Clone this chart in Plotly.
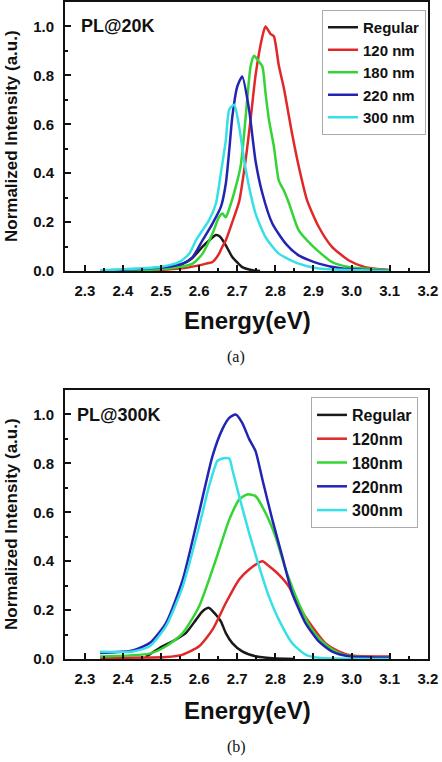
import plotly.graph_objects as go

# ---------------- Panel (a): PL@20K ----------------
a_regular_x = [2.34, 2.45, 2.50, 2.55, 2.58, 2.609, 2.63, 2.644, 2.655, 2.67, 2.687, 2.70, 2.713, 2.74, 2.76]
a_regular_y = [0.0, 0.003, 0.01, 0.025, 0.05, 0.10, 0.13, 0.147, 0.14, 0.105, 0.057, 0.035, 0.016, 0.003, 0.0]

a_120_x = [2.34, 2.45, 2.55, 2.60, 2.618, 2.635, 2.652, 2.661, 2.67, 2.687, 2.705, 2.722, 2.735, 2.748, 2.766,
           2.774, 2.787, 2.796, 2.809, 2.822, 2.844, 2.861, 2.883, 2.914, 2.948, 2.992, 3.035, 3.096]
a_120_y = [0.0, 0.002, 0.01, 0.023, 0.03, 0.037, 0.07, 0.10, 0.126, 0.20, 0.284, 0.455, 0.62, 0.80, 0.96,
           1.0, 0.97, 0.96, 0.84, 0.75, 0.56, 0.43, 0.29, 0.18, 0.10, 0.044, 0.016, 0.005]

a_180_x = [2.34, 2.45, 2.548, 2.583, 2.609, 2.635, 2.652, 2.661, 2.67, 2.679, 2.696, 2.709, 2.718, 2.726, 2.735,
           2.744, 2.757, 2.766, 2.774, 2.783, 2.796, 2.809, 2.822, 2.835, 2.861, 2.896, 2.948, 2.992, 3.10]
a_180_y = [0.0, 0.003, 0.016, 0.03, 0.071, 0.153, 0.22, 0.235, 0.22, 0.255, 0.344, 0.43, 0.56, 0.70, 0.836,
           0.88, 0.856, 0.836, 0.73, 0.62, 0.51, 0.37, 0.33, 0.28, 0.167, 0.105, 0.037, 0.016, 0.003]

a_220_x = [2.34, 2.40, 2.513, 2.557, 2.583, 2.609, 2.635, 2.657, 2.67, 2.679, 2.687, 2.70, 2.713,
           2.731, 2.748, 2.766, 2.792, 2.827, 2.861, 2.914, 2.975, 3.10]
a_220_y = [0.002, 0.005, 0.016, 0.03, 0.057, 0.126, 0.194, 0.262, 0.358, 0.495, 0.63, 0.754, 0.795,
           0.66, 0.45, 0.317, 0.194, 0.112, 0.064, 0.03, 0.01, 0.0]

a_300_x = [2.34, 2.496, 2.548, 2.574, 2.592, 2.609, 2.626, 2.644, 2.657, 2.67, 2.679, 2.692,
           2.705, 2.718, 2.731, 2.748, 2.774, 2.809, 2.861, 2.914, 3.10]
a_300_y = [0.003, 0.016, 0.037, 0.071, 0.126, 0.167, 0.208, 0.276, 0.40, 0.535, 0.66, 0.68,
           0.59, 0.454, 0.344, 0.235, 0.139, 0.071, 0.03, 0.01, 0.0]

# ---------------- Panel (b): PL@300K ----------------
b_regular_x = [2.46, 2.496, 2.53, 2.565, 2.592, 2.609, 2.626, 2.644, 2.657, 2.67, 2.687, 2.713, 2.748, 2.792, 2.85]
b_regular_y = [0.008, 0.045, 0.072, 0.106, 0.161, 0.195, 0.209, 0.181, 0.154, 0.106, 0.065, 0.031, 0.011, 0.003, 0.0]

b_120_x = [2.34, 2.513, 2.557, 2.60, 2.635, 2.67, 2.705, 2.731, 2.766, 2.783, 2.809, 2.835, 2.861, 2.896,
           2.931, 2.966, 3.0, 3.10]
b_120_y = [0.005, 0.008, 0.018, 0.052, 0.12, 0.229, 0.325, 0.366, 0.40, 0.38, 0.345, 0.297, 0.216, 0.134,
           0.065, 0.031, 0.014, 0.01]

b_180_x = [2.34, 2.47, 2.513, 2.557, 2.60, 2.644, 2.679, 2.705, 2.726, 2.748, 2.774, 2.80, 2.827, 2.861,
           2.896, 2.931, 2.966, 3.0, 3.10]
b_180_y = [0.01, 0.022, 0.052, 0.106, 0.216, 0.407, 0.57, 0.652, 0.673, 0.666, 0.598, 0.502, 0.366, 0.229,
           0.12, 0.059, 0.025, 0.011, 0.005]

b_220_x = [2.34, 2.426, 2.47, 2.513, 2.557, 2.60, 2.635, 2.661, 2.679, 2.696, 2.713, 2.731, 2.748, 2.766,
           2.792, 2.818, 2.844, 2.879, 2.914, 2.948, 2.992, 3.10]
b_220_y = [0.025, 0.035, 0.065, 0.147, 0.325, 0.60, 0.83, 0.94, 0.986, 1.0, 0.966, 0.90, 0.85, 0.734,
           0.57, 0.42, 0.27, 0.147, 0.072, 0.031, 0.011, 0.005]

b_300_x = [2.34, 2.426, 2.47, 2.513, 2.557, 2.60, 2.626, 2.648, 2.661, 2.679, 2.687, 2.705, 2.731, 2.757,
           2.783, 2.809, 2.844, 2.879, 2.914, 3.10]
b_300_y = [0.03, 0.031, 0.052, 0.134, 0.297, 0.543, 0.707, 0.81, 0.82, 0.82, 0.775, 0.666, 0.516, 0.38,
           0.256, 0.161, 0.065, 0.018, 0.005, 0.0]

names_a = ["Regular", "120 nm", "180 nm", "220 nm", "300 nm"]
names_b = ["Regular", "120nm", "180nm", "220nm", "300nm"]
colors = ["#1a1a1a", "#e02828", "#33d433", "#2424b4", "#36e0e6"]

series_a = [(a_regular_x, a_regular_y), (a_120_x, a_120_y), (a_180_x, a_180_y), (a_220_x, a_220_y), (a_300_x, a_300_y)]
series_b = [(b_regular_x, b_regular_y), (b_120_x, b_120_y), (b_180_x, b_180_y), (b_220_x, b_220_y), (b_300_x, b_300_y)]

W, H = 442, 762
def py(px):
    return 1 - px / H

fig = go.Figure()
for (xs, ys), n, c in zip(series_a, names_a, colors):
    fig.add_trace(go.Scatter(x=xs, y=ys, name=n, mode="lines",
                             line=dict(color=c, width=2.5, shape="spline", smoothing=0.6),
                             xaxis="x", yaxis="y", legend="legend"))
for (xs, ys), n, c in zip(series_b, names_b, colors):
    fig.add_trace(go.Scatter(x=xs, y=ys, name=n, mode="lines",
                             line=dict(color=c, width=2.5, shape="spline", smoothing=0.6),
                             xaxis="x2", yaxis="y2", legend="legend2"))

FONT = "Liberation Sans, Arial, sans-serif"
xd = [65 / W, 428 / W]

def xax(anchor):
    return dict(domain=xd, anchor=anchor, range=[2.248, 3.2005], dtick=0.1, tick0=2.3,
                tickformat=".1f", ticks="inside", ticklen=6, tickwidth=1.5, tickcolor="#111",
                minor=dict(ticks="inside", dtick=0.05, tick0=2.25, ticklen=3, tickcolor="#111"),
                showline=True, linewidth=2, linecolor="#111", mirror=True, automargin=False,
                showgrid=False, zeroline=False, ticklabelstandoff=5,
                tickfont=dict(family=FONT, size=15, color="#111", weight="bold"))

def yax(anchor, dom):
    return dict(domain=dom, anchor=anchor, range=[0, 1.1], dtick=0.2, tick0=0,
                tickformat=".1f", ticks="inside", ticklen=6, tickwidth=1.5, tickcolor="#111",
                minor=dict(ticks="inside", dtick=0.1, tick0=0, ticklen=3, tickcolor="#111"),
                showline=True, linewidth=2, linecolor="#111", mirror=True, automargin=False,
                showgrid=False, zeroline=False, ticklabelstandoff=6,
                tickfont=dict(family=FONT, size=15, color="#111", weight="bold"))

legfont = dict(family=FONT, size=15, color="#111", weight="bold")

fig.update_layout(
    width=W, height=H, margin=dict(l=0, r=0, t=0, b=0, autoexpand=False),
    paper_bgcolor="white", plot_bgcolor="white",
    xaxis=xax("y"), yaxis=yax("x", [py(271), py(2)]),
    xaxis2=xax("y2"), yaxis2=yax("x2", [py(659), py(390)]),
    legend=dict(x=322 / W, y=py(10), xanchor="left", yanchor="top", bgcolor="white",
                bordercolor="#aaaaaa", borderwidth=1, font=legfont, itemwidth=30,
                tracegroupgap=0),
    legend2=dict(x=311 / W, y=py(397), xanchor="left", yanchor="top", bgcolor="white",
                 bordercolor="#aaaaaa", borderwidth=1, font=dict(legfont, size=16), itemwidth=30,
                 tracegroupgap=0),
    showlegend=True,
)

ann = []
def A(text, x, y, size, family=FONT, bold=True, angle=0):
    ann.append(dict(text=text, x=x / W, y=py(y), xref="paper", yref="paper",
                    showarrow=False, xanchor="center", yanchor="middle", textangle=angle,
                    font=dict(family=family, size=size, color="#111",
                              weight="bold" if bold else "normal")))

A("PL@20K", 118, 26, 18)
A("PL@300K", 119, 415, 18)
A("Energy(eV)", 247, 320, 24)
A("Energy(eV)", 247, 710, 24)
A("Normalized Intensity (a.u.)", 11, 136, 17, angle=-90)
A("Normalized Intensity (a.u.)", 11, 524, 17, angle=-90)
A("(a)", 236, 357, 16, family="Liberation Serif, Times New Roman, serif", bold=False)
A("(b)", 236, 747, 16, family="Liberation Serif, Times New Roman, serif", bold=False)
fig.update_layout(annotations=ann)

fig.write_html("out.html")
